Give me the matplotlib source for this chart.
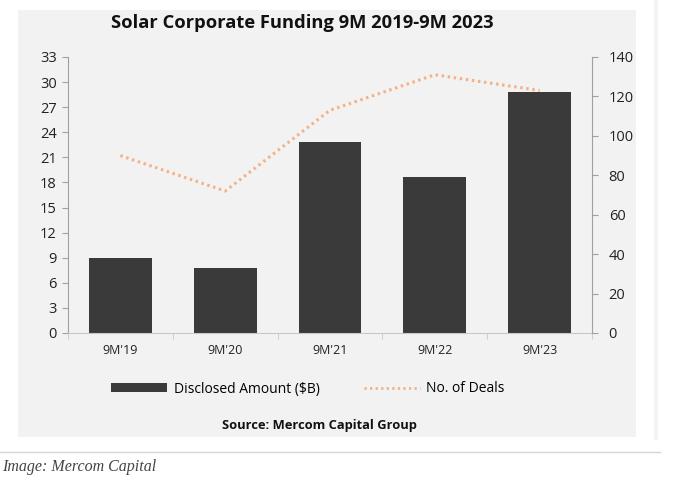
import matplotlib
matplotlib.use("Agg")
import matplotlib.pyplot as plt
from matplotlib.patches import Rectangle, Patch
from matplotlib.lines import Line2D

categories = ["9M'19", "9M'20", "9M'21", "9M'22", "9M'23"]
amount = [9.0, 7.8, 22.8, 18.6, 28.8]
deals = [90, 72, 113, 131, 123]
left_ticks = list(range(0, 34, 3))
right_ticks = list(range(0, 141, 20))

W, H = 685, 484
fig = plt.figure(figsize=(W / 100, H / 100), dpi=100)
fig.patch.set_facecolor("white")
plt.rcParams['font.family'] = ['Open Sans', 'DejaVu Sans']

def fx(px):
    return px / W

def fy(py):
    return 1 - py / H

# gray panel
fig.add_artist(Rectangle((fx(18), fy(437)), fx(636) - fx(18), fy(10) - fy(437),
                         transform=fig.transFigure, facecolor="#F2F2F2",
                         edgecolor="none", zorder=0))
# right light strip
fig.add_artist(Rectangle((fx(654), fy(440)), fx(4), fy(0) - fy(440),
                         transform=fig.transFigure, facecolor="#F3F3F3",
                         edgecolor="none", zorder=0))
# separator line
fig.add_artist(Line2D([0, fx(660)], [fy(452), fy(452)], transform=fig.transFigure,
                      color="#D5D5D5", lw=1))

ax = fig.add_axes([fx(68), fy(333), fx(592) - fx(68), fy(57) - fy(333)])
ax.set_facecolor("#F2F2F2")
ax.patch.set_alpha(0)
x = list(range(len(categories)))
ax.bar(x, amount, width=0.6, color="#3A3A3A", zorder=2)
ax.set_xlim(-0.5, 4.5)
ax.set_ylim(0, 33)
ax.set_yticks(left_ticks)
ax.set_xticks(x)
ax.set_xticklabels(categories)
ax.tick_params(axis="y", length=4, color="#A0A0A0", labelsize=10.5, pad=4, labelcolor="#222222")
ax.tick_params(axis="x", length=0, labelsize=9, pad=8, labelcolor="#222222")
for s in ["top", "right"]:
    ax.spines[s].set_visible(False)
ax.spines["left"].set_color("#A0A0A0")
ax.spines["bottom"].set_color("#C8C8C8")
ax.set_xticks([i + 0.5 for i in range(-1, 5)], minor=True)
ax.tick_params(axis="x", which="minor", length=4, color="#C8C8C8")

ax2 = ax.twinx()
ax2.plot(x, deals, color="#F4B183", lw=2.2, linestyle=(0, (0.8, 1.2)), zorder=3)
ax2.set_ylim(0, 140)
ax2.set_yticks(right_ticks)
ax2.tick_params(axis="y", length=4, color="#A0A0A0", labelsize=10.5, pad=8, labelcolor="#222222")
for s in ["top", "left", "bottom"]:
    ax2.spines[s].set_visible(False)
ax2.spines["right"].set_color("#A0A0A0")

fig.text(fx(302), fy(23), "Solar Corporate Funding 9M 2019-9M 2023", ha="center", va="center",
         fontsize=13.2, fontweight="bold", color="#111111")

handles = [Patch(facecolor="#3A3A3A", edgecolor="none"),
           Line2D([0], [0], color="#F4B183", lw=2, linestyle=(0, (0.8, 1.2)))]
fig.legend(handles, ["Disclosed Amount ($B)", "No. of Deals"], loc="center",
           bbox_to_anchor=(fx(308), fy(389)), ncol=2, frameon=False, fontsize=10,
           handlelength=4.0, handleheight=0.6, columnspacing=3.2, handletextpad=0.5)

fig.text(fx(319), fy(425), "Source: Mercom Capital Group", ha="center", va="center",
         fontsize=9.3, fontweight="bold", color="#111111")

fig.text(fx(2), fy(467), "Image: Mercom Capital", ha="left", va="center",
         fontsize=11.5, fontstyle="italic", family=["Liberation Serif"], color="#444444")

fig.savefig("out.png", dpi=100, facecolor="white")
